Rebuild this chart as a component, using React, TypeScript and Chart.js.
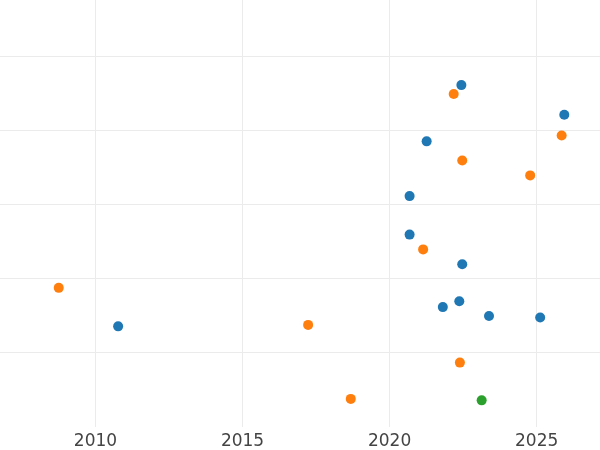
import React, { useEffect, useRef } from "react";
import { Chart, registerables } from "chart.js";

Chart.register(...registerables);

const blueX = [2022.44, 2025.94, 2021.26, 2020.68, 2020.68, 2022.47, 2022.37, 2021.81, 2023.38, 2025.12, 2010.77];
const blueY = [4.62, 4.22, 3.86, 3.12, 2.6, 2.2, 1.7, 1.62, 1.5, 1.48, 1.36];
const orangeX = [2022.18, 2025.85, 2022.47, 2024.78, 2021.14, 2008.75, 2017.23, 2022.39, 2018.68];
const orangeY = [4.5, 3.94, 3.6, 3.4, 2.4, 1.88, 1.38, 0.87, 0.38];
const greenX = [2023.13];
const greenY = [0.36];
const xTickValues = [2010, 2015, 2020, 2025];
const yGridValues = [1, 2, 3, 4, 5];

const toPts = (xs: number[], ys: number[]) => xs.map((x, i) => ({ x, y: ys[i] }));

export default function App() {
  const ref = useRef<HTMLCanvasElement | null>(null);
  useEffect(() => {
    if (!ref.current) return;
    const mk = (label: string, xs: number[], ys: number[], color: string) => ({
      label,
      data: toPts(xs, ys),
      backgroundColor: color,
      borderColor: color,
      borderWidth: 0,
      pointRadius: 5,
      pointHoverRadius: 5,
    });
    const chart = new Chart(ref.current, {
      type: "scatter",
      data: {
        datasets: [
          mk("blue", blueX, blueY, "#1f77b4"),
          mk("orange", orangeX, orangeY, "#ff7f0e"),
          mk("green", greenX, greenY, "#2ca02c"),
        ],
      },
      options: {
        animation: false,
        responsive: false,
        maintainAspectRatio: false,
        layout: { padding: 0, autoPadding: false },
        plugins: { legend: { display: false }, tooltip: { enabled: false } },
        scales: {
          x: {
            type: "linear",
            min: 2006.753,
            max: 2027.154,
            afterBuildTicks: (scale: any) => {
              scale.ticks = xTickValues.map((v) => ({ value: v }));
            },
            afterFit: (scale: any) => {
              scale.height = 23;
            },
            grid: { color: "#ebebeb", drawTicks: false, lineWidth: 1 },
            border: { display: false },
            ticks: {
              color: "#444444",
              padding: 4.5,
              font: { family: "DejaVu Sans", size: 17 },
              callback: (v: any) => String(v),
            },
          },
          y: {
            type: "linear",
            min: 0,
            max: 5.77,
            afterBuildTicks: (scale: any) => {
              scale.ticks = yGridValues.map((v) => ({ value: v }));
            },
            grid: { color: "#ebebeb", drawTicks: false, lineWidth: 1 },
            border: { display: false },
            ticks: { display: false },
          },
        },
      },
    });
    return () => chart.destroy();
  }, []);
  return (
    <div style={{ position: "fixed", left: 0, top: 0, width: 600, height: 450, background: "#ffffff" }}>
      <canvas ref={ref} width={600} height={450} style={{ display: "block", width: 600, height: 450 }} />
    </div>
  );
}
